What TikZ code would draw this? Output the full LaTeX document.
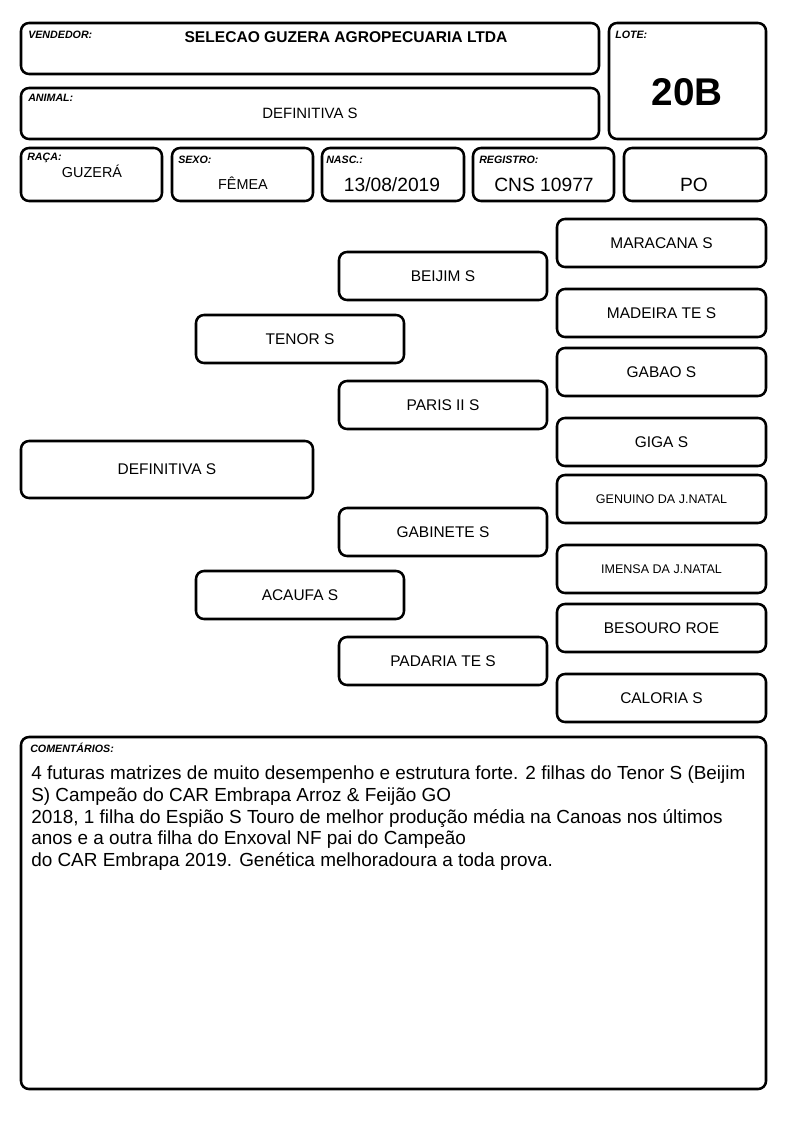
\documentclass[tikz,border=0pt]{standalone}
\usepackage{fontspec}
\setmainfont{Liberation Sans}
\usetikzlibrary{fit}
\begin{document}
\begin{tikzpicture}[x=0.75pt,y=-0.75pt,
  box/.style={draw, line width=1.9pt, rounded corners=6pt, inner sep=0pt},
  lbl/.style={anchor=base west, inner sep=0pt, font=\fontsize{8}{9}\selectfont\bfseries\itshape},
  val/.style={anchor=base, inner sep=0pt, font=\fontsize{14.4}{16}\selectfont},
  sval/.style={anchor=base, inner sep=0pt, font=\fontsize{10.8}{12}\selectfont},
  ped/.style={box, font=\fontsize{11.6}{13}\selectfont},
  peds/.style={box, font=\fontsize{9.4}{11}\selectfont}]
\useasboundingbox (0,0) rectangle (794,1123);
% header boxes
\node[box, fit={(21,23) (599,74)}] (vend) {};
\node[box, fit={(609,23) (766,139)}] (lote) {};
\node[box, fit={(21,88) (599,139)}] (anim) {};
\node[box, fit={(21,148) (162,201)}] (raca) {};
\node[box, fit={(172,148) (313,201)}] (sexo) {};
\node[box, fit={(322,148) (464,201)}] (nasc) {};
\node[box, fit={(473,148) (614,201)}] (reg) {};
\node[box, fit={(624,148) (766,201)}] (po) {};
% labels
\node[lbl] (lvend) at (28,38.5) {VENDEDOR:};
\node[lbl] (llote) at (615,39) {LOTE:};
\node[lbl] (lanim) at (28,102) {ANIMAL:};
\node[lbl] (lraca) at (27,161) {RAÇA:};
\node[lbl] (lsexo) at (178,164) {SEXO:};
\node[lbl] (lnasc) at (326,164) {NASC.:};
\node[lbl] (lreg) at (479,164) {REGISTRO:};
% values
\node[anchor=base, inner sep=0pt, font=\fontsize{11.7}{13}\selectfont\bfseries] (tvend) at (346,43) {SELECAO GUZERA AGROPECUARIA LTDA};
\node[anchor=base, inner sep=0pt, font=\fontsize{29}{32}\selectfont\bfseries] (tlote) at (687,105.5) {20B};
\node[anchor=base, inner sep=0pt, font=\fontsize{11.2}{13}\selectfont] (tanim) at (310,119) {DEFINITIVA S};
\node[sval] (traca) at (92,178) {GUZERÁ};
\node[sval] (tsexo) at (243,189.5) {FÊMEA};
\node[val] (tnasc) at (392,192) {13/08/2019};
\node[val] (treg) at (544,192) {CNS 10977};
\node[val] (tpo) at (694,192) {PO};
% pedigree
\node[ped, fit={(21,441) (313,498)}] (a) {};
\node[font=\fontsize{11.6}{13}\selectfont] at (a.center) {DEFINITIVA S};
\node[ped, fit={(196,315) (404,363)}] (p) {};
\node[font=\fontsize{11.6}{13}\selectfont] at (p.center) {TENOR S};
\node[ped, fit={(196,571) (404,619)}] (m) {};
\node[font=\fontsize{11.6}{13}\selectfont] at (m.center) {ACAUFA S};
\node[ped, fit={(339,252) (547,300)}] (pp) {};
\node[font=\fontsize{11.6}{13}\selectfont] at (pp.center) {BEIJIM S};
\node[ped, fit={(339,381) (547,429)}] (pm) {};
\node[font=\fontsize{11.6}{13}\selectfont] at (pm.center) {PARIS II S};
\node[ped, fit={(339,508) (547,556)}] (mp) {};
\node[font=\fontsize{11.6}{13}\selectfont] at (mp.center) {GABINETE S};
\node[ped, fit={(339,637) (547,685)}] (mm) {};
\node[font=\fontsize{11.6}{13}\selectfont] at (mm.center) {PADARIA TE S};
\node[ped, fit={(557,219) (766,267)}] (ppp) {};
\node[font=\fontsize{11.6}{13}\selectfont] at (ppp.center) {MARACANA S};
\node[ped, fit={(557,289) (766,337)}] (ppm) {};
\node[font=\fontsize{11.6}{13}\selectfont] at (ppm.center) {MADEIRA TE S};
\node[ped, fit={(557,348) (766,396)}] (pmp) {};
\node[font=\fontsize{11.6}{13}\selectfont] at (pmp.center) {GABAO S};
\node[ped, fit={(557,418) (766,466)}] (pmm) {};
\node[font=\fontsize{11.6}{13}\selectfont] at (pmm.center) {GIGA S};
\node[ped, fit={(557,475) (766,523)}] (mpp) {};
\node[font=\fontsize{9.4}{11}\selectfont] at (mpp.center) {GENUINO DA J.NATAL};
\node[ped, fit={(557,545) (766,593)}] (mpm) {};
\node[font=\fontsize{9.4}{11}\selectfont] at (mpm.center) {IMENSA DA J.NATAL};
\node[ped, fit={(557,604) (766,652)}] (mmp) {};
\node[font=\fontsize{11.6}{13}\selectfont] at (mmp.center) {BESOURO ROE};
\node[ped, fit={(557,674) (766,722)}] (mmm) {};
\node[font=\fontsize{11.6}{13}\selectfont] at (mmm.center) {CALORIA S};
% comments
\node[box, fit={(21,737) (766,1089)}] (com) {};
\node[lbl] (lcom) at (30,752) {COMENTÁRIOS:};
\node[anchor=base west, inner sep=0pt, align=left, font=\fontsize{14.2}{16.3}\selectfont] (tcom) at (31,866.7) {4 futuras matrizes de muito desempenho e estrutura forte. 2 filhas do Tenor S (Beijim\\S) Campeão do CAR Embrapa Arroz \& Feijão GO\\2018, 1 filha do Espião S Touro de melhor produção média na Canoas nos últimos\\anos e a outra filha do Enxoval NF pai do Campeão\\do CAR Embrapa 2019. Genética melhoradoura a toda prova.};
\end{tikzpicture}
\end{document}
